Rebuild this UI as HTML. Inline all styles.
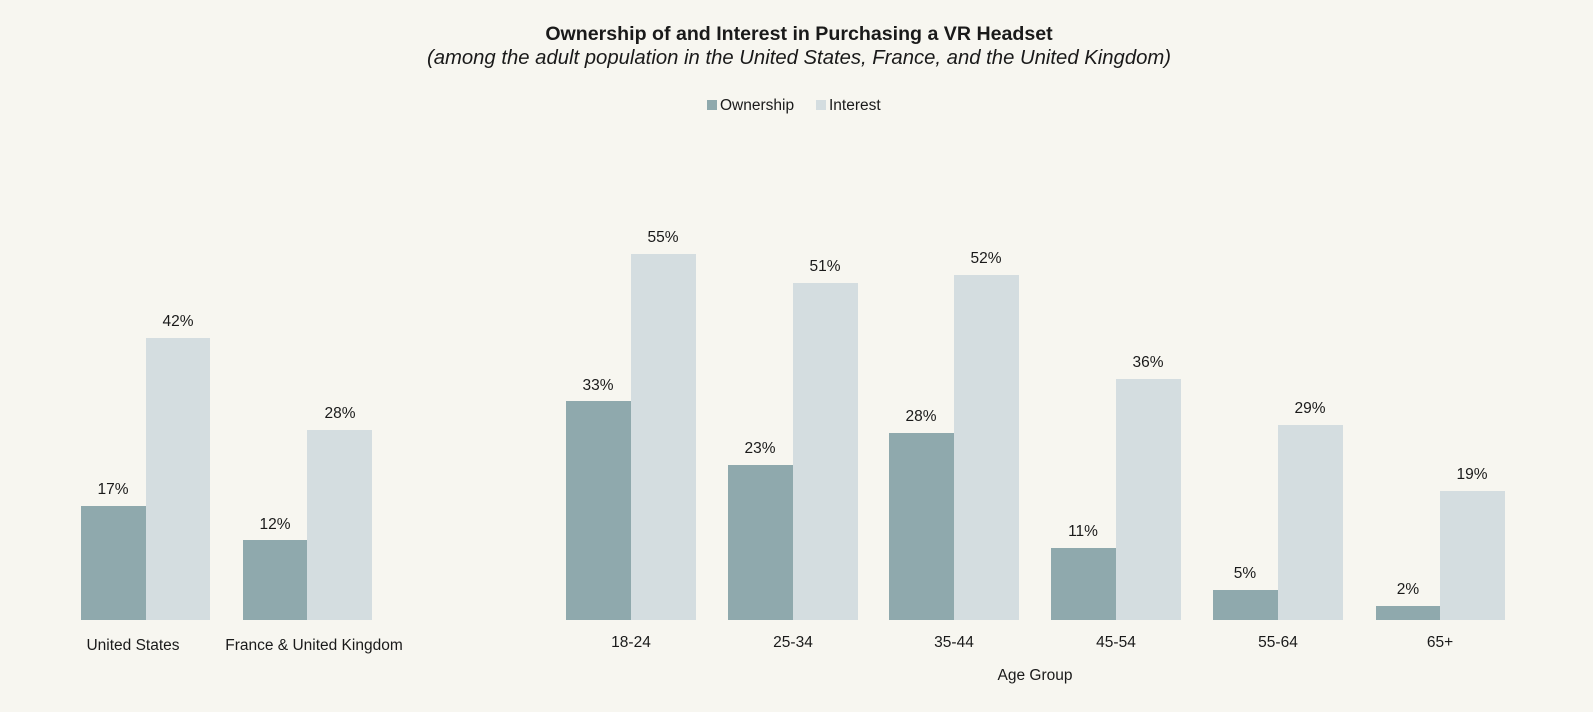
<!DOCTYPE html>
<html><head><meta charset="utf-8"><style>
html,body{margin:0;padding:0;background:#f7f6f0;}
svg{display:block;font-family:"Liberation Sans",sans-serif;}
</style></head><body>
<svg width="1593" height="712" viewBox="0 0 1593 712">
<rect width="1593" height="712" fill="#f7f6f0"/>
<text x="799" y="40" text-anchor="middle" font-size="19.6" font-weight="bold" fill="#1a1a1a">Ownership of and Interest in Purchasing a VR Headset</text>
<text x="799" y="64" text-anchor="middle" font-size="20.3" font-style="italic" fill="#1a1a1a">(among the adult population in the United States, France, and the United Kingdom)</text>
<rect x="707" y="100" width="10" height="10" fill="#8fa9ad"/>
<text x="720" y="110" font-size="15.5" fill="#1a1a1a">Ownership</text>
<rect x="816" y="100" width="10" height="10" fill="#d4dde0"/>
<text x="829" y="110" font-size="15.5" fill="#1a1a1a">Interest</text>
<g font-size="15.5" fill="#1a1a1a" text-anchor="middle">
<rect x="81" y="506" width="65" height="114" fill="#8fa9ad"/><rect x="146" y="338" width="64" height="282" fill="#d4dde0"/>
<text x="113" y="494">17%</text><text x="178" y="326">42%</text>
<text x="133" y="650">United States</text>
<rect x="243" y="540" width="64" height="80" fill="#8fa9ad"/><rect x="307" y="430" width="65" height="190" fill="#d4dde0"/>
<text x="275" y="529">12%</text><text x="340" y="418">28%</text>
<text x="314" y="650">France &amp; United Kingdom</text>

<rect x="566" y="401" width="65" height="219" fill="#8fa9ad"/><rect x="631" y="254" width="65" height="366" fill="#d4dde0"/>
<text x="598" y="390">33%</text><text x="663" y="242">55%</text><text x="631" y="647">18-24</text>
<rect x="728" y="465" width="65" height="155" fill="#8fa9ad"/><rect x="793" y="283" width="65" height="337" fill="#d4dde0"/>
<text x="760" y="453">23%</text><text x="825" y="271">51%</text><text x="793" y="647">25-34</text>
<rect x="889" y="433" width="65" height="187" fill="#8fa9ad"/><rect x="954" y="275" width="65" height="345" fill="#d4dde0"/>
<text x="921" y="421">28%</text><text x="986" y="263">52%</text><text x="954" y="647">35-44</text>
<rect x="1051" y="548" width="65" height="72" fill="#8fa9ad"/><rect x="1116" y="379" width="65" height="241" fill="#d4dde0"/>
<text x="1083" y="536">11%</text><text x="1148" y="367">36%</text><text x="1116" y="647">45-54</text>
<rect x="1213" y="590" width="65" height="30" fill="#8fa9ad"/><rect x="1278" y="425" width="65" height="195" fill="#d4dde0"/>
<text x="1245" y="578">5%</text><text x="1310" y="413">29%</text><text x="1278" y="647">55-64</text>
<rect x="1376" y="606" width="64" height="14" fill="#8fa9ad"/><rect x="1440" y="491" width="65" height="129" fill="#d4dde0"/>
<text x="1408" y="594">2%</text><text x="1472" y="479">19%</text><text x="1440" y="647">65+</text>
<text x="1035" y="680">Age Group</text>
</g>
</svg>
</body></html>
